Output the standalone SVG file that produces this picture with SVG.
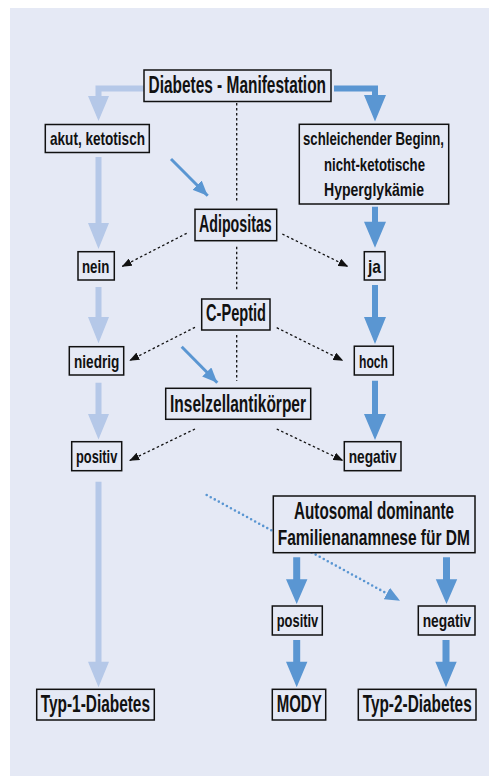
<svg xmlns="http://www.w3.org/2000/svg" width="489" height="776" viewBox="0 0 489 776">
<style>
.bg{fill:#E5E9F5}
.box{fill:#E5E9F5;stroke:#111;stroke-width:1.5}
.t{font-family:"Liberation Sans Narrow","Liberation Sans",Arial,sans-serif;font-weight:bold;fill:#111;}
.b{font-size:23px}
.m{font-size:19px}
.s{font-size:18px}
.e{text-anchor:end}
.light{fill:#B5C8E8}
.dark{fill:#5A96D2}
.dot{stroke:#111;stroke-width:1.3;stroke-dasharray:2.5 2.5;fill:none}
.bl{stroke:#5A96D2;stroke-width:3;fill:none}
.bd{stroke:#5A96D2;stroke-width:2.6;stroke-dasharray:0 4.6;stroke-linecap:round;fill:none}
</style>
<defs>
<marker id="ak" viewBox="0 0 10 8" refX="10" refY="4" markerWidth="10" markerHeight="8" markerUnits="userSpaceOnUse" orient="auto"><path d="M0,0 L10,4 L0,8 Z" fill="#111"/></marker>
<marker id="ab" viewBox="0 0 15 13" refX="15" refY="6.5" markerWidth="15" markerHeight="13" markerUnits="userSpaceOnUse" orient="auto"><path d="M0,0 L15,6.5 L0,13 Z" fill="#5A96D2"/></marker>
</defs>
<rect class="bg" x="10" y="8" width="479" height="768"/>
<g id="connectors">
<path class="light" d="M144,85.5 H95.5 V96 H88 L98.5,121 L109,96 H101.5 V91.5 H144 Z"/>
<path class="dark" d="M334,85.5 H378 V95 H386 L375,121.5 L364,95 H372 V91.5 H334 Z"/>
<path class="light" d="M95.5,157 V223 H88 L98.5,249 L109,223 H101.5 V157 Z"/>
<path class="light" d="M95.5,287 V317 H88 L98.5,343.3 L109,317 H101.5 V287 Z"/>
<path class="light" d="M95.5,382.7 V414 H88 L98.5,439.5 L109,414 H101.5 V382.7 Z"/>
<path class="light" d="M95.5,481.7 V661.7 H88 L98.5,687.3 L109,661.7 H101.5 V481.7 Z"/>
<path class="dark" d="M372,206.7 V221.7 H364 L375,247.7 L386,221.7 H378 V206.7 Z"/>
<path class="dark" d="M372,285 V317 H364 L375,344 L386,317 H378 V285 Z"/>
<path class="dark" d="M372,380.7 V414 H364 L375,440 L386,414 H378 V380.7 Z"/>
<path class="dark" d="M293.2,557.3 V579.3 H286 L296.7,604 L307.4,579.3 H300.2 V557.3 Z"/>
<path class="dark" d="M443,557.3 V579.3 H435.8 L446.5,604 L457.2,579.3 H450 V557.3 Z"/>
<path class="dark" d="M293.2,640 V661.7 H286 L296.7,687.3 L307.4,661.7 H300.2 V640 Z"/>
<path class="dark" d="M442.5,640 V661.7 H435.3 L446,687.3 L456.7,661.7 H449.5 V640 Z"/>
<line class="bl" x1="171" y1="159" x2="207.7" y2="195.7" marker-end="url(#ab)"/>
<line class="bl" x1="181.7" y1="346.7" x2="217.3" y2="382.7" marker-end="url(#ab)"/>
<line class="dot" x1="236.7" y1="103" x2="236.7" y2="203"/>
<line class="dot" x1="236.7" y1="246.7" x2="236.7" y2="291.7"/>
<line class="dot" x1="236.7" y1="335" x2="236.7" y2="380.7"/>
<line class="dot" x1="186.7" y1="233.3" x2="121.7" y2="266.7" marker-end="url(#ak)"/>
<line class="dot" x1="282.3" y1="234" x2="348.3" y2="266.7" marker-end="url(#ak)"/>
<line class="dot" x1="195" y1="327.3" x2="129.3" y2="360.7" marker-end="url(#ak)"/>
<line class="dot" x1="276.7" y1="327.7" x2="343.3" y2="360.7" marker-end="url(#ak)"/>
<line class="dot" x1="195" y1="429" x2="129.3" y2="460.7" marker-end="url(#ak)"/>
<line class="dot" x1="276.7" y1="429" x2="343.3" y2="460.7" marker-end="url(#ak)"/>
<line class="bd" x1="206.7" y1="495" x2="400" y2="600.7" marker-end="url(#ab)"/>
</g>
<g id="n-diabetes"><rect class="box" x="144" y="70" width="187" height="31.5"/><text class="t b" x="148.5" y="93" textLength="177.5" lengthAdjust="spacingAndGlyphs">Diabetes - Manifestation</text></g>
<g id="n-akut"><rect class="box" x="45.3" y="124.5" width="104" height="28"/><text class="t m" x="50" y="145" textLength="95" lengthAdjust="spacingAndGlyphs">akut, ketotisch</text></g>
<g id="n-schleichend"><rect class="box" x="299.3" y="124.3" width="149.4" height="79.7"/><text class="t m" transform="translate(303,145) scale(0.6956,1)" x="0" y="0" textLength="202.7" lengthAdjust="spacingAndGlyphs">schleichender Beginn,</text><text class="t m e" x="425" y="170.5" textLength="101" lengthAdjust="spacingAndGlyphs">nicht-ketotische</text><text class="t m e" x="424" y="196" textLength="100" lengthAdjust="spacingAndGlyphs">Hyperglykämie</text></g>
<g id="n-adipositas"><rect class="box" x="195" y="209.3" width="81.7" height="31.4"/><text class="t b" x="199" y="232.3" textLength="72.7" lengthAdjust="spacingAndGlyphs">Adipositas</text></g>
<g id="n-nein"><rect class="box" x="78" y="251.7" width="36.3" height="28.3"/><text class="t m" x="82" y="273.3" textLength="27.3" lengthAdjust="spacingAndGlyphs">nein</text></g>
<g id="n-ja"><rect class="box" x="364.3" y="251.7" width="20.7" height="28.3"/><text class="t m" x="368" y="273.3" textLength="13" lengthAdjust="spacingAndGlyphs">ja</text></g>
<g id="n-cpeptid"><rect class="box" x="201.7" y="299" width="68.3" height="31"/><text class="t b" x="206" y="320.7" textLength="60" lengthAdjust="spacingAndGlyphs">C-Peptid</text></g>
<g id="n-niedrig"><rect class="box" x="69.3" y="346.7" width="54.4" height="28.3"/><text class="t m" x="74" y="368.3" textLength="45.3" lengthAdjust="spacingAndGlyphs">niedrig</text></g>
<g id="n-hoch"><rect class="box" x="354.3" y="346.2" width="39" height="28.8"/><text class="t m" x="359" y="368.3" textLength="29" lengthAdjust="spacingAndGlyphs">hoch</text></g>
<g id="n-insel"><rect class="box" x="165.7" y="388.3" width="145" height="31"/><text class="t b" x="170" y="412" textLength="136" lengthAdjust="spacingAndGlyphs">Inselzellantikörper</text></g>
<g id="n-positiv1"><rect class="box" x="71.7" y="441.7" width="50" height="29"/><text class="t m" x="76" y="463.3" textLength="41.3" lengthAdjust="spacingAndGlyphs">positiv</text></g>
<g id="n-negativ1"><rect class="box" x="344.3" y="441.7" width="56.7" height="29"/><text class="t m" x="348.7" y="463.3" textLength="48" lengthAdjust="spacingAndGlyphs">negativ</text></g>
<g id="n-autosomal"><rect class="box" x="273.3" y="496" width="201.7" height="56.7"/><text class="t b" transform="translate(294,519.3) scale(0.6625,1)" x="0" y="0" textLength="241.5" lengthAdjust="spacingAndGlyphs">Autosomal dominante</text><text class="t b" transform="translate(277.7,545) scale(0.6747,1)" x="0" y="0" textLength="285" lengthAdjust="spacingAndGlyphs">Familienanamnese für DM</text></g>
<g id="n-positiv2"><rect class="box" x="272.3" y="606" width="50" height="29"/><text class="t s" x="276.7" y="626.7" textLength="41.6" lengthAdjust="spacingAndGlyphs">positiv</text></g>
<g id="n-negativ2"><rect class="box" x="418.3" y="606" width="56.7" height="29"/><text class="t s e" x="471" y="626.7" textLength="48.3" lengthAdjust="spacingAndGlyphs">negativ</text></g>
<g id="n-typ1"><rect class="box" x="36.7" y="689.3" width="117.6" height="30.7"/><text class="t b" x="40.7" y="711.7" textLength="109.3" lengthAdjust="spacingAndGlyphs">Typ-1-Diabetes</text></g>
<g id="n-mody"><rect class="box" x="272.3" y="689.3" width="53.4" height="30.7"/><text class="t b" x="276.7" y="711.7" textLength="45" lengthAdjust="spacingAndGlyphs">MODY</text></g>
<g id="n-typ2"><rect class="box" x="358.3" y="689.3" width="117.7" height="30.7"/><text class="t b" transform="translate(362.7,711.7) scale(0.661,1)" x="0" y="0" textLength="164.9" lengthAdjust="spacingAndGlyphs">Typ-2-Diabetes</text></g>
</svg>
